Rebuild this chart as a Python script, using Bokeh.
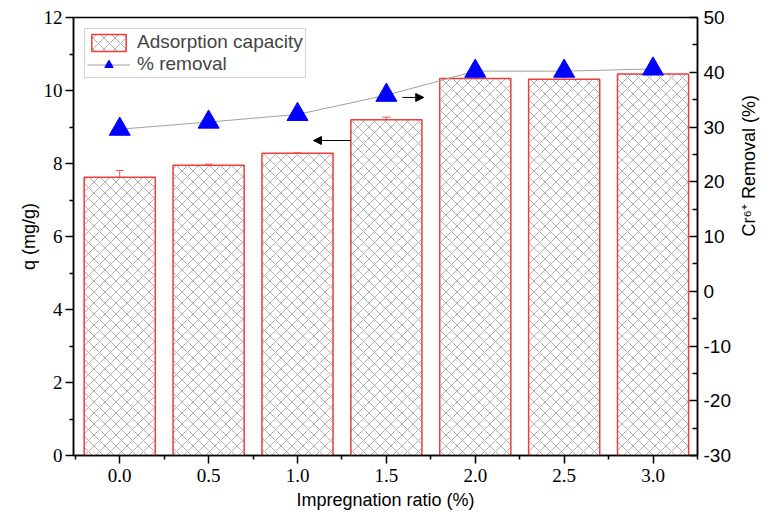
import math
from bokeh.plotting import figure
from bokeh.models import (Range1d, LinearAxis, FixedTicker, ColumnDataSource, Whisker, TeeHead,
                          Arrow, NormalHead, Legend, LegendItem)
from bokeh.embed import file_html
from bokeh.resources import INLINE

# ---- data ----
ratio = [0.0, 0.5, 1.0, 1.5, 2.0, 2.5, 3.0]
ratio_labels = ["0.0", "0.5", "1.0", "1.5", "2.0", "2.5", "3.0"]
capacity = [7.62, 7.95, 8.28, 9.20, 10.33, 10.31, 10.45]
capacity_err = [0.19, 0.03, 0.01, 0.07, 0.01, 0.15, 0.03]
removal = [29.6, 30.9, 32.3, 35.8, 40.2, 40.2, 40.6]
left_ticks = [0, 2, 4, 6, 8, 10, 12]
right_ticks = [-30, -20, -10, 0, 10, 20, 30, 40, 50]
# arrow hints: (x_start, y_start, x_end, y_end)
arrow_left = (1.30, 8.63, 1.09, 8.63)
arrow_right = (1.59, 35.4, 1.71, 35.4)

SERIF = "Liberation Serif"
SANS = "Liberation Sans"

p = figure(width=771, height=517, output_backend="svg", toolbar_location=None,
           x_range=Range1d(-0.26, 3.25), y_range=Range1d(0, 12),
           min_border_left=73, min_border_right=74, min_border_top=17, min_border_bottom=62)
p.extra_y_ranges = {"r": Range1d(-30, 50)}
p.xgrid.visible = False
p.ygrid.visible = False
p.outline_line_color = "black"
p.outline_line_width = 1.5

src = ColumnDataSource(dict(x=ratio, top=capacity,
                            upper=[c + e for c, e in zip(capacity, capacity_err)],
                            lower=[c - e for c, e in zip(capacity, capacity_err)]))
bars = p.vbar(x="x", top="top", width=0.4, bottom=0, source=src,
              fill_color="white", line_color="#f03c3c", line_width=1.5,
              hatch_pattern="diagonal_cross", hatch_color="#b0b0b0", hatch_scale=11, hatch_weight=1)

wh = Whisker(source=src, base="x", upper="upper", lower="lower", line_color="#f05050", line_width=1,
             upper_head=TeeHead(size=8, line_color="#f05050", line_width=1),
             lower_head=TeeHead(size=8, line_color="#f05050", line_width=1))
p.add_layout(wh)

ln = p.line(ratio, removal, y_range_name="r", line_color="#a0a0a0", line_width=1)
sc = p.scatter(ratio, removal, y_range_name="r", marker="triangle", size=21,
               fill_color="#0000ff", line_color="#0000ff")

p.add_layout(Arrow(end=NormalHead(size=8, fill_color="black", line_color="black"),
                   x_start=arrow_left[0], y_start=arrow_left[1], x_end=arrow_left[2], y_end=arrow_left[3],
                   line_color="black", line_width=1))
p.add_layout(Arrow(end=NormalHead(size=8, fill_color="black", line_color="black"),
                   x_start=arrow_right[0], y_start=arrow_right[1], x_end=arrow_right[2], y_end=arrow_right[3],
                   y_range_name="r", line_color="black", line_width=1))

# x axis
xa = p.xaxis[0]
xa.ticker = FixedTicker(ticks=ratio, minor_ticks=[r + 0.25 for r in [-0.5] + ratio])
xa.major_label_overrides = {r: l for r, l in zip(ratio, ratio_labels)}
xa.axis_label = "Impregnation ratio (%)"
# left axis
ya = p.yaxis[0]
ya.ticker = FixedTicker(ticks=left_ticks, minor_ticks=list(range(1, 12, 2)))
ya.axis_label = "q (mg/g)"
# right axis
ra = LinearAxis(y_range_name="r", axis_label="Cr⁶⁺ Removal (%)")
ra.ticker = FixedTicker(ticks=right_ticks, minor_ticks=list(range(-25, 50, 10)))
ra.major_label_overrides = {t: str(t) for t in right_ticks}
ra.axis_label_orientation = math.pi / 2
p.add_layout(ra, "right")

for ax in (xa, ya, ra):
    ax.major_tick_in = 0
    ax.major_tick_out = 8
    ax.minor_tick_in = 0
    ax.minor_tick_out = 4
    ax.axis_line_width = 1.5
    ax.major_tick_line_width = 1.5
    ax.minor_tick_line_width = 1.5
    ax.major_label_text_font_size = "19px"
    ax.major_label_text_color = "black"
    ax.axis_label_text_font = SANS
    ax.axis_label_text_font_size = "18px"
    ax.axis_label_text_font_style = "normal"
    ax.axis_label_text_color = "black"
# right axis ticks point inward
ra.major_tick_out = 0
ra.major_tick_in = 8
ra.minor_tick_out = 0
ra.minor_tick_in = 5
xa.major_label_text_font = SERIF
ya.major_label_text_font = SERIF
ra.major_label_text_font = SANS
xa.major_label_standoff = 5
xa.axis_label_standoff = 5
ya.major_label_standoff = 3
ya.axis_label_standoff = 2
ra.major_label_standoff = 6
ra.axis_label_standoff = 15

legend = Legend(items=[LegendItem(label="Adsorption capacity", renderers=[bars]),
                       LegendItem(label="% removal", renderers=[ln, sc])],
                location="top_left", margin=11, padding=2, spacing=0,
                glyph_width=43, glyph_height=21, label_height=21, label_standoff=7,
                label_text_font=SANS, label_text_font_size="19px",
                border_line_color="#aaaaaa", border_line_width=1,
                background_fill_color="white", background_fill_alpha=1)
p.add_layout(legend)

open("out.html", "w").write(file_html(p, INLINE))
